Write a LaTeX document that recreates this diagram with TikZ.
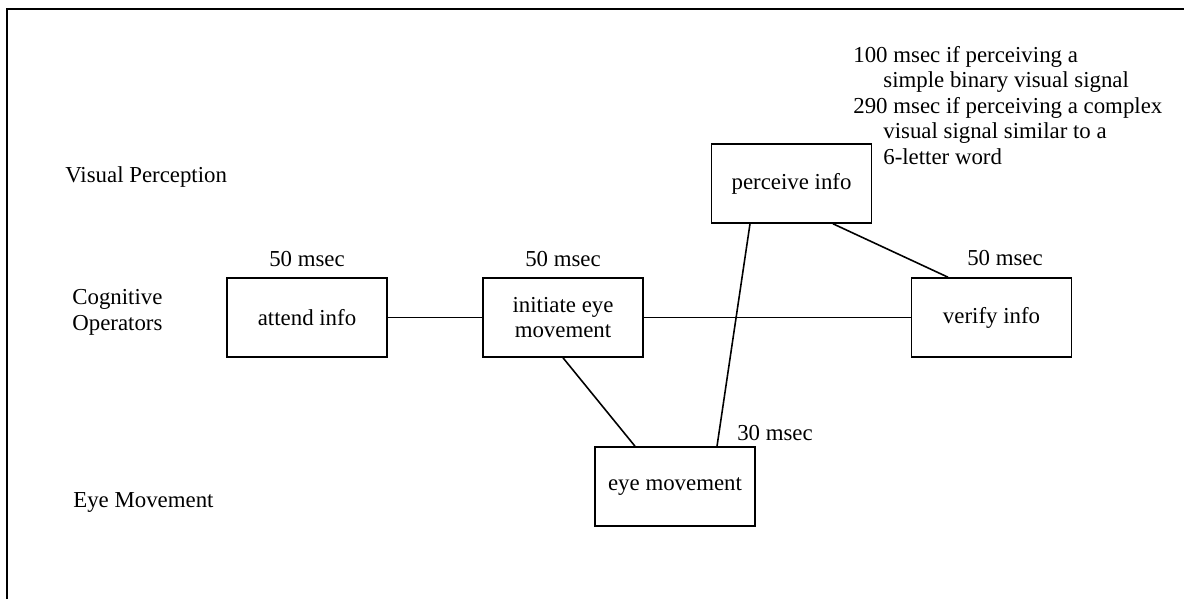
\documentclass[tikz,border=0pt]{standalone}
\usepackage{fontspec}
\setmainfont{Liberation Serif}
\usetikzlibrary{positioning}

\begin{document}
\begin{tikzpicture}[
    every node/.style={font=\fontsize{13}{14.5}\selectfont},
    opbox/.style={draw, line width=0.9pt, minimum width=3.2cm, minimum height=1.58cm, align=center},
    rowlabel/.style={anchor=west, align=left, inner sep=0pt},
    link/.style={line width=0.9pt}
]
    \useasboundingbox (0,0) rectangle (23.68,-11.98);

    % Frame (top and left edges only)
    \draw[line width=0.05cm] (0.14,-11.98) -- (0.14,-0.18) -- (23.68,-0.18);

    % Row labels
    \node[rowlabel] (rowvis) at (1.30,-3.54) {Visual Perception};
    \node[rowlabel] (rowcog) at (1.44,-6.25) {Cognitive\\Operators};
    \node[rowlabel] (roweye) at (1.46,-10.04) {Eye Movement};

    % Operators
    \node[opbox] (attend) at (6.14,-6.35) {attend info};
    \node[opbox] (initiate) at (11.26,-6.35) {initiate eye\\movement};
    \node[opbox] (verify) at (19.83,-6.35) {verify info};
    \node[opbox] (perceive) at (15.83,-3.67) {perceive info};
    \node[opbox] (eyemove) at (13.50,-9.73) {eye movement};

    % Durations
    \node[above=0.08cm of attend] (tattend) {50 msec};
    \node[above=0.08cm of initiate] (tinitiate) {50 msec};
    \node[above=0.1cm of verify, xshift=0.27cm] (tverify) {50 msec};
    \node (teye) at (15.50,-8.66) {30 msec};
    \node[anchor=north west, align=left, inner sep=0pt] (tperceive) at (17.06,-0.92)
        {100 msec if perceiving a\\
         \hspace*{0.6cm}simple binary visual signal\\
         290 msec if perceiving a complex\\
         \hspace*{0.6cm}visual signal similar to a\\
         \hspace*{0.6cm}6-letter word};

    % Dependencies
    \draw[link] (attend.east) -- (initiate.west);
    \draw[link] (initiate.east) -- (verify.west);
    \draw[link] (initiate.south) -- ([xshift=-0.8cm]eyemove.north);
    \draw[link] ([xshift=-0.83cm]perceive.south) -- ([xshift=0.84cm]eyemove.north);
    \draw[link] ([xshift=0.83cm]perceive.south) -- ([xshift=-0.87cm]verify.north);
\end{tikzpicture}
\end{document}
